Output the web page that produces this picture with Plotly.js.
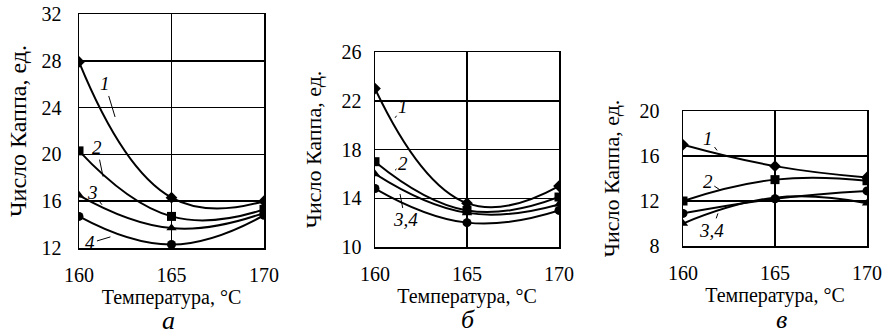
<!DOCTYPE html>
<html>
<head>
<meta charset="utf-8">
<script src="https://cdn.plot.ly/plotly-3.0.1.min.js"></script>
<style>html,body{margin:0;padding:0;background:#fff}</style>
</head>
<body>
<div id="chart" style="width:884px;height:336px"></div>
<script>
// Temperature, °C
const temps = [160, 165, 170];

// Panel а
const a1 = [27.9, 16.3, 16.0];
const a2 = [20.3, 14.7, 15.3];
const a3 = [16.5, 13.7, 15.0];
const a4 = [14.7, 12.3, 14.8];

// Panel б
const b1 = [23.0, 13.6, 15.0];
const b2 = [17.0, 13.0, 14.1];
const b3 = [16.0, 12.8, 13.5];
const b4 = [14.8, 12.0, 13.0];

// Panel в
const v1 = [17.0, 15.1, 14.1];
const v2 = [12.0, 13.9, 13.8];
const v3 = [10.0, 12.3, 11.8];
const v4 = [10.9, 12.2, 12.9];

const xTicks = [160, 165, 170];
const yTicksA = [12, 16, 20, 24, 28, 32];
const yTicksB = [10, 14, 18, 22, 26];
const yTicksV = [8, 12, 16, 20];

const panelLetters = ['а', 'б', 'в'];
const xTitle = 'Температура, °C';
const yTitle = 'Число Каппа, ед.';

const symbols = ['diamond', 'square', 'triangle-up', 'circle'];

function tr(y, sym, xa, ya) {
  return {
    x: temps, y: y, xaxis: xa, yaxis: ya, type: 'scatter', mode: 'lines+markers',
    line: {color: '#000', width: 2, shape: 'spline', smoothing: 1.3},
    marker: {symbol: sym, size: 9, color: '#000'},
    showlegend: false, hoverinfo: 'skip'
  };
}

const data = [
  tr(a1, symbols[0], 'x', 'y'), tr(a2, symbols[1], 'x', 'y'), tr(a3, symbols[2], 'x', 'y'), tr(a4, symbols[3], 'x', 'y'),
  tr(b1, symbols[0], 'x2', 'y2'), tr(b2, symbols[1], 'x2', 'y2'), tr(b3, symbols[2], 'x2', 'y2'), tr(b4, symbols[3], 'x2', 'y2'),
  tr(v1, symbols[0], 'x3', 'y3'), tr(v2, symbols[1], 'x3', 'y3'), tr(v3, symbols[2], 'x3', 'y3'), tr(v4, symbols[3], 'x3', 'y3')
];

const font = '"Liberation Serif", "Times New Roman", serif';

function xax(dom, anchor) {
  return {
    domain: dom, anchor: anchor, range: [160, 170], tickvals: xTicks, ticks: '',
    showgrid: true, gridcolor: '#000', gridwidth: 1.5, zeroline: false,
    showline: true, linecolor: '#000', linewidth: 1.5, mirror: true,
    tickfont: {family: font, size: 20, color: '#000'}, ticklabelstandoff: 8,
    title: {text: xTitle, font: {family: font, size: 20, color: '#000'}, standoff: 4},
    fixedrange: true
  };
}
function yax(dom, anchor, range, ticks, tsize, tstand, lstand) {
  return {
    domain: dom, anchor: anchor, range: range, tickvals: ticks, ticks: '',
    showgrid: true, gridcolor: '#000', gridwidth: 1.5, zeroline: false,
    showline: true, linecolor: '#000', linewidth: 1.5, mirror: true,
    tickfont: {family: font, size: 20, color: '#000'}, ticklabelstandoff: lstand,
    title: {text: yTitle, font: {family: font, size: tsize, color: '#000'}, standoff: tstand},
    fixedrange: true
  };
}

function lab(text, x, y, ax, ay, xr, yr) {
  return {
    text: text, x: x, y: y, xref: xr, yref: yr, ax: ax, ay: ay,
    showarrow: true, arrowhead: 0, arrowwidth: 1, arrowcolor: '#000',
    font: {family: font, size: 19, color: '#000'}, standoff: 0, startstandoff: 0
  };
}
function letter(i, px, py) {
  return {
    text: '<i>' + panelLetters[i] + '</i>', x: px / 884, y: 1 - py / 336,
    xref: 'paper', yref: 'paper', xanchor: 'center', yanchor: 'middle',
    showarrow: false, font: {family: font, size: 26, color: '#000'}
  };
}

const annotations = [
  lab('<i>1</i>', 161.95, 23.2, -10, -33, 'x', 'y'),
  lab('<i>2</i>', 161.3, 18.1, -6, -29, 'x', 'y'),
  lab('<i>3</i>', 161.24, 15.7, -9, -12, 'x', 'y'),
  lab('<i>4</i>', 161.7, 12.95, -20, 6, 'x', 'y'),
  lab('<i>1</i>', 161.09, 20.6, 8, -11, 'x2', 'y2'),
  lab('<i>2</i>', 161.09, 16.3, 8, -7, 'x2', 'y2'),
  lab('<i>3,4</i>', 161.36, 14.35, 5, 26, 'x2', 'y2'),
  lab('<i>1</i>', 161.85, 16.5, -9, -12, 'x3', 'y3'),
  lab('<i>2</i>', 162.0, 13.0, -12, -8, 'x3', 'y3'),
  lab('<i>3,4</i>', 161.9, 10.9, -6, 17, 'x3', 'y3'),
  letter(0, 168, 320),
  letter(1, 468, 319),
  letter(2, 781, 319)
];

const layout = {
  width: 884, height: 336,
  margin: {l: 0, r: 0, t: 0, b: 0},
  paper_bgcolor: '#fff', plot_bgcolor: '#fff',
  xaxis: xax([79/884, 264/884], 'y'),
  yaxis: yax([1 - 248/336, 1 - 14/336], 'x', [12, 32], yTicksA, 24, 8, 12),
  xaxis2: xax([375/884, 559/884], 'y2'),
  yaxis2: yax([1 - 247/336, 1 - 52/336], 'x2', [10, 26], yTicksB, 22, 14, 8),
  xaxis3: xax([683/884, 867/884], 'y3'),
  yaxis3: yax([1 - 246/336, 1 - 111/336], 'x3', [8, 20], yTicksV, 22, 14, 18),
  annotations: annotations,
  font: {family: font, color: '#000'}
};

Plotly.newPlot('chart', data, layout, {staticPlot: true, displayModeBar: false});
</script>
</body>
</html>
